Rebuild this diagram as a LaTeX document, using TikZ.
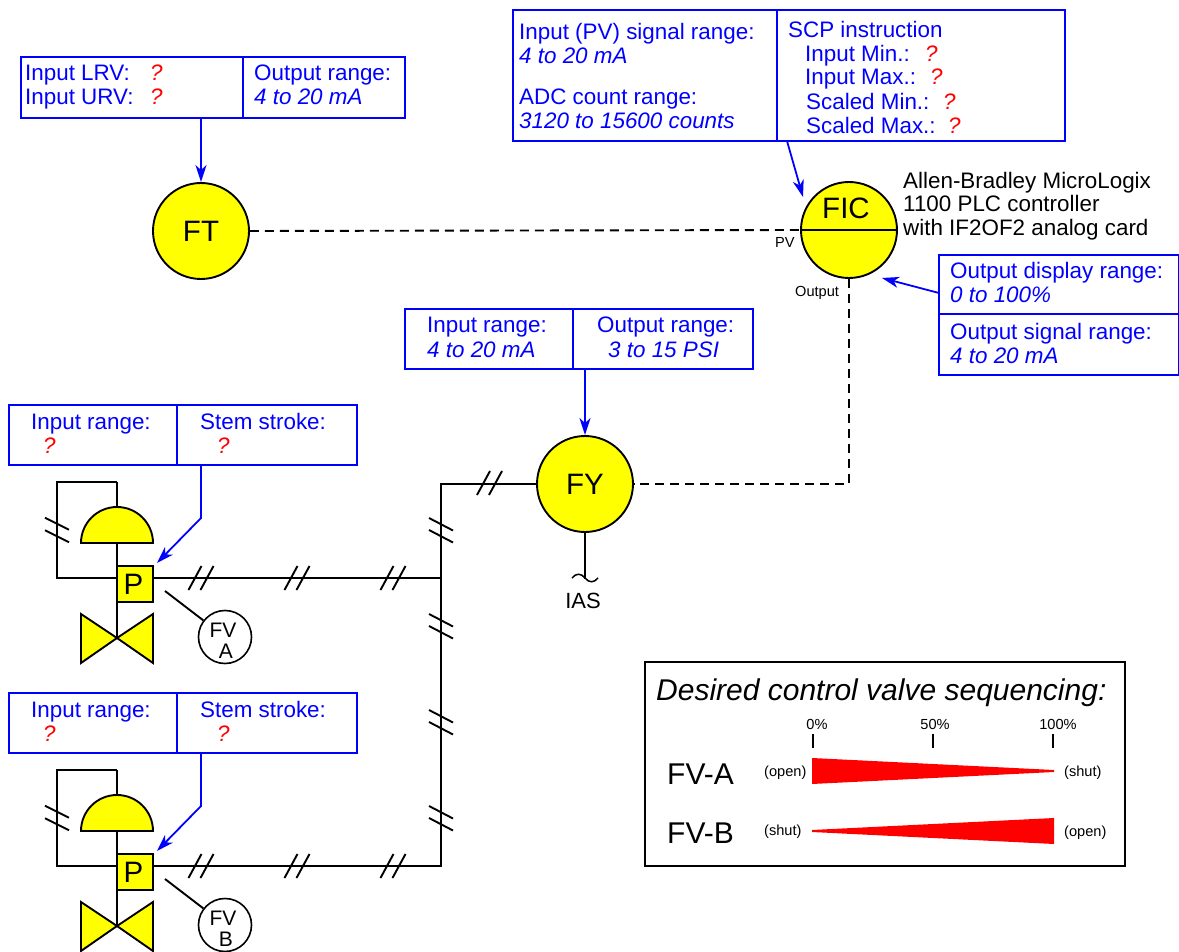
\documentclass[tikz,border=0pt]{standalone}
\usepackage{fontspec}
\setmainfont{Liberation Sans}
\usetikzlibrary{arrows.meta}
\definecolor{valveyellow}{RGB}{255,255,0}
\tikzset{
    wire/.style={line width=1.9pt},
    sig/.style={line width=1.9pt, dash pattern=on 9pt off 6pt},
    blueline/.style={draw=blue, line width=1.8pt},
    callout/.style={blueline, -{Stealth[length=17pt,width=11pt,inset=5pt]}},
    infobox/.style={draw=blue, line width=1.8pt, inner sep=0pt},
    instr/.style={circle, draw, fill=valveyellow, line width=1.9pt, minimum size=96pt, inner sep=0pt},
    bubble/.style={circle, draw, line width=1.6pt, minimum size=53pt, inner sep=0pt},
    posbox/.style={draw, fill=valveyellow, line width=1.9pt, minimum size=36pt, inner sep=0pt, font=\fontsize{29.5}{30}\selectfont},
    txt/.style={anchor=base west, inner sep=0pt, font=\fontsize{22.4}{24}\selectfont},
    bluetxt/.style={txt, text=blue},
    smalltxt/.style={anchor=base west, inner sep=0pt, font=\fontsize{14.6}{16}\selectfont},
    qm/.style={bluetxt, text=red, font=\fontsize{22.4}{24}\selectfont\itshape}
}
\begin{document}
\begin{tikzpicture}[x=1pt,y=-1pt]
    \useasboundingbox (0,0) rectangle (1179,952);

    % transmitter and its range box
    \node[infobox, minimum width=384pt, minimum height=61pt] (ftbox) at (213,87.5) {};
    \draw[blueline] (243,57) -- (243,118);
    \foreach \x/\y/\t/\n in {25/81/Input LRV:/a, 25/105/Input URV:/b, 254/81/Output range:/c}
        \node[bluetxt] (ft\n) at (\x,\y) {\t};
    \node[bluetxt] (ftd) at (254,105) {\itshape 4 to 20 mA};
    \node[qm] (ftqa) at (150,81) {?};
    \node[qm] (ftqb) at (150,105) {?};
    \node[instr] (ft) at (201,231) {\fontsize{29.5}{30}\selectfont FT\hspace{4pt}};
    \draw[callout] (ftbox.south -| ft.north) -- (ft.north);

    % controller
    \node[instr] (fic) at (849,230) {};
    \draw[wire] (fic.west) -- (fic.east);
    \node[inner sep=0pt, font=\fontsize{29.5}{30}\selectfont] (ficname) at (846,208) {FIC};
    \node[infobox, minimum width=552pt, minimum height=131pt] (scpbox) at (789,75.5) {};
    \draw[blueline] (777,10) -- (777,141);
    \foreach \x/\y/\t/\n in {519/40/Input (PV) signal range:/a, 519/105/ADC count range:/b,
        788/38/SCP instruction/c, 805/62/Input Min.:/d, 805/85/Input Max.:/e,
        806/110/Scaled Min.:/f, 806/134/Scaled Max.:/g}
        \node[bluetxt] (scp\n) at (\x,\y) {\t};
    \node[bluetxt] (scph) at (519,64) {\itshape 4 to 20 mA};
    \node[bluetxt] (scpi) at (519,129) {\itshape 3120 to 15600 counts};
    \foreach \x/\y/\n in {925/62/a, 930/85/b, 943/110/c, 948/134/d}
        \node[qm] (scpq\n) at (\x,\y) {?};
    \coordinate (scpout) at (787,141);
    \coordinate (fictip) at (803,197);
    \draw[callout] (scpout) -- (fictip);
    \foreach \y/\t/\n in {189/Allen-Bradley MicroLogix/a, 212/1100 PLC controller/b, 236/with IF2OF2 analog card/c}
        \node[txt, text=black] (plc\n) at (903,\y) {\t};
    \node[smalltxt] (pvlabel) at (775,248) {PV};
    \node[smalltxt] (outlabel) at (795,297) {Output};
    \node[infobox, minimum width=240pt, minimum height=120pt] (outbox) at (1059,315) {};
    \draw[blueline] (939,314) -- (1179,314);
    \foreach \y/\t/\n in {279/Output display range:/a, 339/Output signal range:/b}
        \node[bluetxt] (out\n) at (950,\y) {\t};
    \node[bluetxt] (outc) at (950,303) {\itshape 0 to 100\%};
    \node[bluetxt] (outd) at (950,363) {\itshape 4 to 20 mA};
    \coordinate (outfrom) at (939,293);
    \coordinate (outtip) at (882,278);
    \draw[callout] (outfrom) -- (outtip);

    % I/P transducer
    \node[infobox, minimum width=348pt, minimum height=60pt] (fybox) at (579,339) {};
    \draw[blueline] (573,309) -- (573,369);
    \node[bluetxt] (fya) at (427,333) {Input range:};
    \node[bluetxt] (fyb) at (427,357) {\itshape 4 to 20 mA};
    \node[bluetxt] (fyc) at (597,333) {Output range:};
    \node[bluetxt] (fyd) at (608,357) {\itshape 3 to 15 PSI};
    \node[instr] (fy) at (585,484) {\fontsize{29.5}{30}\selectfont FY\hspace{4pt}};
    \draw[callout] (fybox.south -| fy.north) -- (fy.north);
    \draw[sig] (ft.east) -- (fic.west);
    \draw[sig] (fic.south) |- (fy.east);
    \coordinate (iasend) at (585,579);
    \draw[wire] (fy.south) -- (iasend);
    \draw[line width=1.5pt] (572,578) .. controls (576,573) and (581,573) .. (585,578) .. controls (589,583) and (594,583) .. (598,578);
    \node[txt, anchor=base, font=\fontsize{22}{24}\selectfont] (ias) at (583,608.5) {IAS};

    % the two control valves
    \foreach \v/\d in {A/0, B/288}
    {
        \begin{scope}[yshift=-\d pt]
        \node[infobox, minimum width=348pt, minimum height=60pt] (box\v) at (183,435) {};
        \draw[blueline] (177,405) -- (177,465);
        \node[bluetxt] (in\v) at (31,429) {Input range:};
        \node[bluetxt] (st\v) at (200,429) {Stem stroke:};
        \node[qm] (qa\v) at (43,453) {?};
        \node[qm] (qb\v) at (217,453) {?};
        \coordinate (top\v) at (117,482);
        \coordinate (corner\v) at (57,482);
        \coordinate (low\v) at (57,578);
        \coordinate (mid\v) at (117,638);
        \draw[wire] (top\v) -- (corner\v) -- (low\v) -- (117,578);
        \draw[wire] (top\v) -- (mid\v);
        \draw[wire, fill=valveyellow] (81,543) arc (180:360:36 and 36) -- cycle;
        \draw[wire, fill=valveyellow, line join=miter] (mid\v) -- (81,614) -- (81,663) -- cycle;
        \draw[wire, fill=valveyellow, line join=miter] (mid\v) -- (153,614) -- (153,663) -- cycle;
        \node[posbox] (pos\v) at (135,584) {\raisebox{-2pt}{P\hspace{3pt}}};
        \node[bubble] (fv\v) at (225,637) {};
        \node[inner sep=0pt, font=\fontsize{21}{22}\selectfont] (fvt\v) at (223,630) {FV};
        \node[inner sep=0pt, font=\fontsize{21}{22}\selectfont] (fvl\v) at (226,651) {\v};
        \coordinate (lead\v) at (165,591);
        \draw[wire] (lead\v) -- (fv\v);
        \coordinate (bfrom\v) at (201,465);
        \coordinate (bbend\v) at (201,518);
        \coordinate (btip\v) at (157,563);
        \draw[callout] (bfrom\v) -- (bbend\v) -- (btip\v);
        \foreach \q in {-6,6}
        {
            \draw[wire] (45,524+\q*1.05) -- ++(24,12);
            \foreach \x in {201,297,393}
                \draw[wire] (\x-6.5+\q,590) -- ++(13,-24);
        }
        \end{scope}
    }

    % air lines back to the transducer
    \coordinate (rise) at (441,484);
    \coordinate (bottom) at (441,866);
    \draw[wire] (fy.west) -- (rise) -- (bottom) -- (posB.east |- bottom);
    \draw[wire] (posA.east |- 0,578) -- (441,578);
    \foreach \q in {0,12}
    {
        \draw[wire] (477+\q,495) -- ++(13,-24);
        \foreach \y in {518,614,710,806}
            \draw[wire] (429,\y+\q) -- ++(24,12.5);
    }

    % sequencing legend
    \node[draw, line width=1.9pt, minimum width=480pt, minimum height=204pt, inner sep=0pt] (seqbox) at (885,764) {};
    \node[txt, font=\fontsize{30}{32}\selectfont\itshape] (seqtitle) at (656,700) {Desired control valve sequencing:};
    \foreach \x/\l/\t/\n in {813/817/0/a, 933/935/50/b, 1053/1058/100/c}
    {
        \node[smalltxt, anchor=base] (pct\n) at (\l,729) {\t\%};
        \coordinate (ticka\n) at (\x,734);
        \coordinate (tickb\n) at (\x,748);
        \draw[wire] (ticka\n) -- (tickb\n);
    }
    \node[txt, font=\fontsize{30}{32}\selectfont] (seqa) at (667,784) {FV-A};
    \node[txt, font=\fontsize{30}{32}\selectfont] (seqb) at (667,843) {FV-B};
    \fill[red] (812,758) -- (812,784) -- (1054,772) -- (1054,770) -- cycle;
    \fill[red] (812,830) -- (812,832) -- (1054,844) -- (1054,818) -- cycle;
    \node[smalltxt] (seqc) at (764,776) {(open)};
    \node[smalltxt] (seqd) at (1064,776) {(shut)};
    \node[smalltxt] (seqe) at (764,835) {(shut)};
    \node[smalltxt] (seqf) at (1064,836) {(open)};
\end{tikzpicture}
\end{document}
